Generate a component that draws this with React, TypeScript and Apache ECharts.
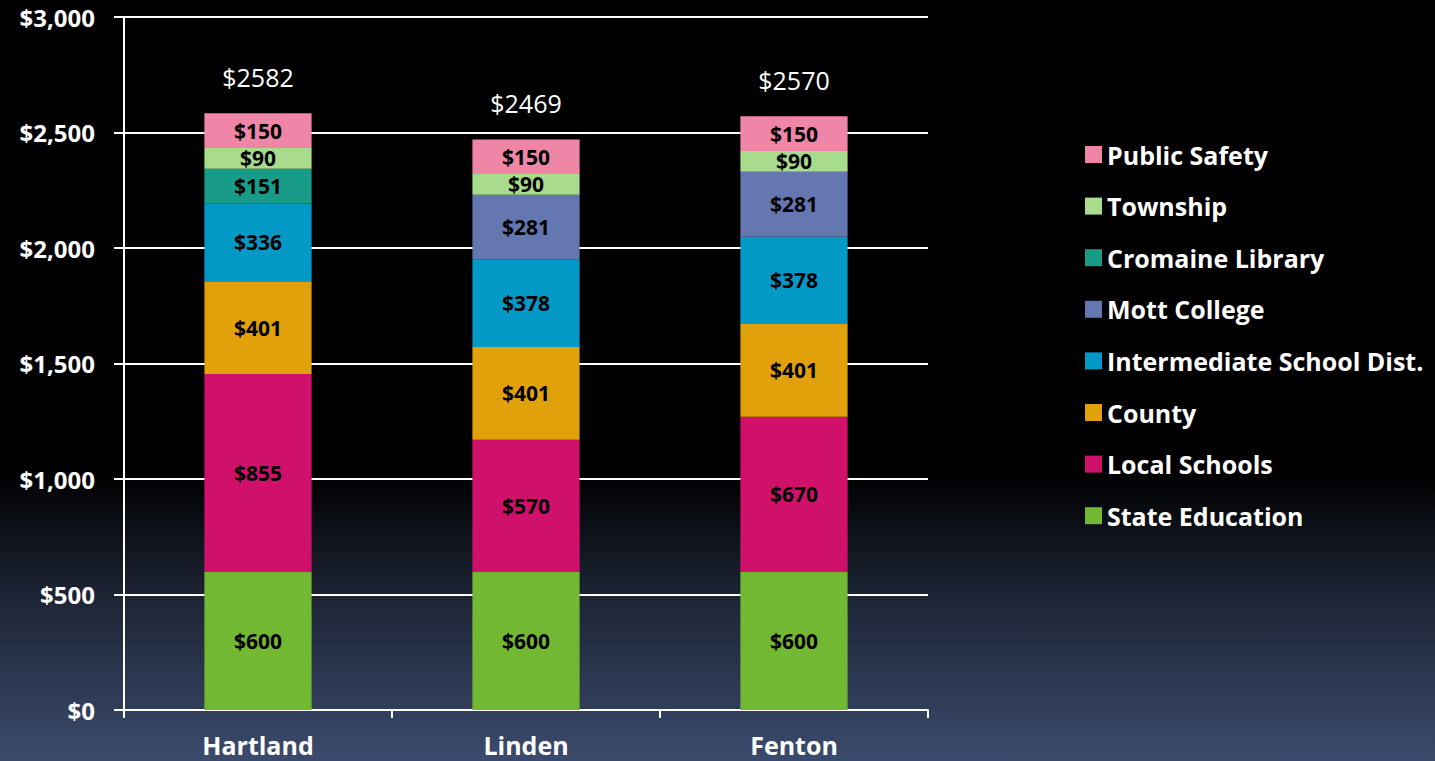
import React, { useEffect, useRef } from "react";
import * as echarts from "echarts";

const categories = ["Hartland", "Linden", "Fenton"];
const stateEducation = [600, 600, 600];
const localSchools = [855, 570, 670];
const county = [401, 401, 401];
const intermediate = [336, 378, 378];
const mottCollege = [null, 281, 281];
const cromaine = [151, null, null];
const township = [90, 90, 90];
const publicSafety = [150, 150, 150];
const totals = ["$2582", "$2469", "$2570"];
const yTicks = [0, 500, 1000, 1500, 2000, 2500, 3000];
const legendOrder = [
  "Public Safety",
  "Township",
  "Cromaine Library",
  "Mott College",
  "Intermediate School Dist.",
  "County",
  "Local Schools",
  "State Education",
];

const FONT = "Open Sans";

export default function App() {
  const ref = useRef<HTMLDivElement>(null);
  useEffect(() => {
    if (!ref.current) return;
    const chart = echarts.init(ref.current, null, { renderer: "svg" });
    const segLabel = {
      show: true,
      position: "inside",
      color: "#000",
      fontFamily: FONT,
      fontWeight: "bold",
      fontSize: 21,
      formatter: (p: any) => (p.value == null ? "" : "$" + p.value),
    };
    const mk = (name: string, data: any[], color: string) => ({
      name,
      type: "bar",
      stack: "total",
      barWidth: "40%",
      data,
      itemStyle: { color },
      label: segLabel,
    });
    const series = [
      mk("State Education", stateEducation, "#72b832"),
      mk("Local Schools", localSchools, "#d0116b"),
      mk("County", county, "#e1a10b"),
      mk("Intermediate School Dist.", intermediate, "#0399c7"),
      mk("Mott College", mottCollege, "#6577b0"),
      mk("Cromaine Library", cromaine, "#189c88"),
      mk("Township", township, "#a8dc8c"),
      mk("Public Safety", publicSafety, "#ef85a7"),
      {
        name: "totals",
        type: "bar",
        stack: "total",
        barWidth: "40%",
        data: [0, 0, 0],
        itemStyle: { color: "transparent" },
        label: {
          show: true,
          position: "top",
          distance: 24,
          color: "#fff",
          fontFamily: FONT,
          fontSize: 25,
          formatter: (p: any) => totals[p.dataIndex],
        },
        silent: true,
      },
    ];
    chart.setOption({
      animation: false,
      backgroundColor: "transparent",
      grid: { left: 124, right: 507, top: 17, bottom: 51, containLabel: false },
      legend: {
        orient: "vertical",
        left: 1080,
        top: 137,
        itemWidth: 17,
        itemHeight: 17,
        itemGap: 26.6,
        icon: "rect",
        data: legendOrder,
        textStyle: {
          color: "#fff",
          fontFamily: FONT,
          fontWeight: "bold",
          fontSize: 25,
          lineHeight: 25,
        },
      },
      xAxis: {
        type: "category",
        data: categories,
        axisLine: { lineStyle: { color: "#fff", width: 2 } },
        axisTick: { show: true, length: 8, lineStyle: { color: "#fff", width: 2 } },
        axisLabel: {
          color: "#fff",
          fontFamily: FONT,
          fontWeight: "bold",
          fontSize: 25,
          margin: 22,
        },
      },
      yAxis: {
        type: "value",
        min: yTicks[0],
        max: yTicks[yTicks.length - 1],
        interval: 500,
        axisLine: { show: true, lineStyle: { color: "#fff", width: 2 } },
        axisTick: { show: true, length: 10, lineStyle: { color: "#fff", width: 2 } },
        splitLine: { lineStyle: { color: "#fff", width: 2 } },
        axisLabel: {
          color: "#fff",
          fontFamily: FONT,
          fontWeight: "bold",
          fontSize: 24,
          margin: 29,
          formatter: (v: number) => "$" + v.toLocaleString("en-US"),
        },
      },
      series,
    });
    return () => chart.dispose();
  }, []);
  return (
    <div
      style={{
        position: "fixed",
        left: 0,
        top: 0,
        width: 1435,
        height: 761,
        background:
          "linear-gradient(to bottom, #000 0%, #000 62%, #1c2333 78%, #3b4b6d 100%)",
      }}
    >
      <div ref={ref} style={{ width: 1435, height: 761 }} />
    </div>
  );
}
